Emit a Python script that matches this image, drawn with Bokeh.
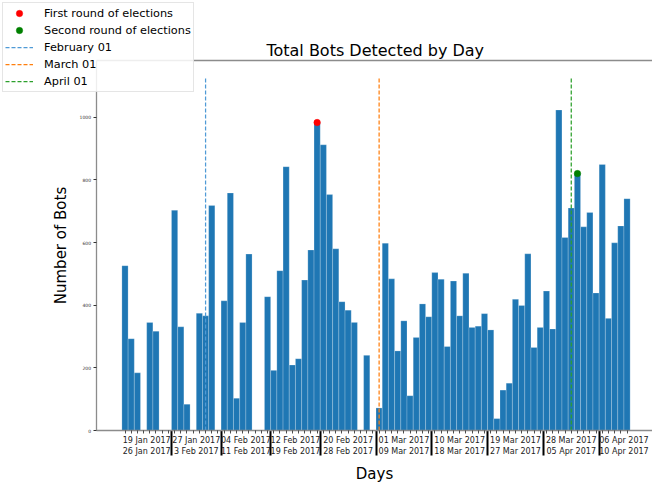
import numpy as np
import pandas as pd
from bokeh.plotting import figure
from bokeh.models import (Range1d, LinearAxis, FixedTicker, Legend, LegendItem,
                          CustomJSTickFormatter, ColumnDataSource, Label)
from bokeh.embed import file_html
from bokeh.resources import INLINE

# ---------------- data ----------------
start_date = "2017-01-19"
bot_counts = [
    # Jan 19 - Jan 31
    526, 293, 184, 0, 345, 317, 0, 0, 703, 331, 84, 0, 374,
    # Feb 01 - Feb 28
    366, 718, 0, 414, 758, 103, 345, 563, 0, 0, 427, 192, 510, 842,
    209, 229, 480, 576, 983, 912, 753, 580, 411, 384, 345, 0, 240, 0,
    # Mar 01 - Mar 31
    72, 598, 484, 254, 350, 111, 297, 404, 363, 504, 483, 268, 477, 366,
    502, 329, 333, 373, 321, 38, 129, 151, 419, 399, 564, 265, 329, 445,
    324, 1023, 616,
    # Apr 01 - Apr 10
    710, 820, 650, 696, 439, 849, 358, 599, 653, 740,
]

election_dates = ["2017-02-19", "2017-04-02"]
election_labels = ["First round of elections", "Second round of elections"]
election_colors = ["red", "green"]

month_marks = ["2017-02-01", "2017-03-01", "2017-04-01"]
month_labels = ["February 01", "March 01", "April 01"]
month_colors = ["#4f9ad6", "#ff7f0e", "#2ca02c"]
month_line_top = 1130

group_start_labels = ["19 Jan 2017", "27 Jan 2017", "04 Feb 2017", "12 Feb 2017",
                      "20 Feb 2017", "01 Mar 2017", "10 Mar 2017", "19 Mar 2017",
                      "28 Mar 2017", "06 Apr 2017"]
group_end_labels = ["26 Jan 2017", "3 Feb 2017", "11 Feb 2017", "19 Feb 2017",
                    "28 Feb 2017", "09 Mar 2017", "18 Mar 2017", "27 Mar 2017",
                    "05 Apr 2017", "10 Apr 2017"]

y_ticks = [0, 200, 400, 600, 800, 1000]
y_top = 1181

# ---------------- layout helpers ----------------
W, H = 652, 484
PX_PER_DAY = 6.198
PX_PER_UNIT = 0.3133
X0_PX = 124.5      # pixel of the first day's centre
Y0_PX = 430.0      # pixel of value 0
AX_LEFT_PX = 95.5  # pixel of left spine

x_lo = (0 - X0_PX) / PX_PER_DAY
x_hi = (W - X0_PX) / PX_PER_DAY
y_lo = (Y0_PX - H) / PX_PER_UNIT
y_hi = Y0_PX / PX_PER_UNIT


def px_to_x(px):
    return (px - X0_PX) / PX_PER_DAY


def px_to_y(py):
    return (Y0_PX - py) / PX_PER_UNIT


# ---------------- derived ----------------
t0 = pd.Timestamp(start_date)


def day_index(d):
    return (pd.Timestamp(d) - t0).days


days = np.arange(len(bot_counts))
counts = np.array(bot_counts)
nz = counts > 0

g_start = [day_index(pd.to_datetime(s, format="%d %b %Y")) for s in group_start_labels]
g_end = [day_index(pd.to_datetime(s, format="%d %b %Y")) for s in group_end_labels]
separators = [s - 0.5 for s in g_start[1:]]
centers = [((s - 0.5) + max(e + 0.5, s - 0.5 + 8)) / 2 for s, e in zip(g_start, g_end)]

FONT = "DejaVu Sans"

p = figure(width=W, height=H, output_backend="svg", toolbar_location=None,
           x_range=Range1d(x_lo, x_hi), y_range=Range1d(y_lo, y_hi),
           x_axis_location=None, y_axis_location=None)
p.min_border = 0
p.min_border_left = 0
p.min_border_right = 0
p.min_border_top = 0
p.min_border_bottom = 0
p.outline_line_color = None
p.grid.grid_line_color = None
p.background_fill_color = "white"
p.border_fill_color = "white"

x_left = px_to_x(AX_LEFT_PX)
x_right = x_hi

# bars
src = ColumnDataSource(dict(x=days[nz], top=counts[nz]))
p.vbar(x="x", top="top", width=1.0, source=src, fill_color="#1f77b4",
       line_color="white", line_alpha=0.35, line_width=0.6)

# month lines
line_renderers = []
for d, c in zip(month_marks, month_colors):
    i = day_index(d)
    r = p.segment(x0=[i], y0=[0], x1=[i], y1=[month_line_top], line_color=c,
                  line_width=1.25, line_dash="4 2")
    line_renderers.append(r)

# election dots
dot_renderers = []
for d, c in zip(election_dates, election_colors):
    i = day_index(d)
    r = p.scatter(x=[i], y=[bot_counts[i]], size=6.5, fill_color=c, line_color=c,
                  line_width=0.5)
    dot_renderers.append(r)

# y axis (left spine)
yax = LinearAxis(
    fixed_location=x_left, bounds=(0, y_top),
    ticker=FixedTicker(ticks=y_ticks),
    major_label_text_font=FONT, major_label_text_font_size="4.5px",
    major_label_text_color="#333333", major_label_standoff=2,
    major_tick_out=3, major_tick_in=0, major_tick_line_color="#333333",
    minor_tick_line_color=None,
    axis_line_color="#8c8c8c", axis_line_width=1.3,
    axis_label="Number of Bots", axis_label_text_font=FONT,
    axis_label_text_font_size="15px", axis_label_text_font_style="normal",
    axis_label_text_color="black", axis_label_standoff=7,
)
p.add_layout(yax, "left")

fmt_code = """
for (let k = 0; k < centers.length; k++) {
  if (Math.abs(centers[k] - tick) < 1e-6) return labels[k];
}
return "";
"""

row2_px = 446.0
ax1 = LinearAxis(
    fixed_location=0, bounds=(x_left, x_right),
    ticker=FixedTicker(ticks=centers, minor_ticks=list(days)),
    formatter=CustomJSTickFormatter(args=dict(centers=centers, labels=group_start_labels), code=fmt_code),
    major_tick_line_color=None, major_tick_out=3, major_tick_in=0,
    minor_tick_line_color="#222222", minor_tick_out=3, minor_tick_in=0, minor_tick_line_width=0.8,
    axis_line_color="#8c8c8c", axis_line_width=1.3,
    major_label_text_font=FONT, major_label_text_font_size="8px",
    major_label_text_color="#222222", major_label_standoff=2,
)
ax2 = LinearAxis(
    fixed_location=px_to_y(row2_px), bounds=(x_left, x_right),
    ticker=FixedTicker(ticks=centers),
    formatter=CustomJSTickFormatter(args=dict(centers=centers, labels=group_end_labels), code=fmt_code),
    major_tick_line_color=None, major_tick_out=0, major_tick_in=0,
    minor_tick_line_color=None,
    axis_line_color=None,
    major_label_text_font=FONT, major_label_text_font_size="8px",
    major_label_text_color="#222222", major_label_standoff=0,
    axis_label="Days", axis_label_text_font=FONT, axis_label_text_font_size="15px",
    axis_label_text_font_style="normal", axis_label_text_color="black",
    axis_label_standoff=6,
)
# group separators (long thick ticks spanning both label rows)
ax3 = LinearAxis(
    fixed_location=0, bounds=(x_left, x_right),
    ticker=FixedTicker(ticks=separators),
    formatter=CustomJSTickFormatter(code="return '';"),
    major_tick_line_color="black", major_tick_out=25, major_tick_in=0,
    major_tick_line_width=2, minor_tick_line_color=None,
    axis_line_color=None, major_label_text_font_size="0px",
)
p.add_layout(ax3, "below")
p.add_layout(ax1, "below")
p.add_layout(ax2, "below")

# top spine
top_ax = LinearAxis(fixed_location=y_top, bounds=(x_left, x_right),
                    ticker=FixedTicker(ticks=[]), major_tick_line_color=None,
                    minor_tick_line_color=None, major_label_text_font_size="0px",
                    axis_line_color="#8c8c8c", axis_line_width=1.3, major_tick_out=0)
p.add_layout(top_ax, "above")

# title
title = Label(x=(AX_LEFT_PX + 654) / 2, y=H - 50, x_units="screen", y_units="screen",
              text="Total Bots Detected by Day", text_font=FONT, text_font_size="16px",
              text_color="black", text_align="center", text_baseline="alphabetic")
p.add_layout(title)

legend = Legend(
    items=[LegendItem(label=l, renderers=[r]) for l, r in zip(election_labels, dot_renderers)]
    + [LegendItem(label=l, renderers=[r]) for l, r in zip(month_labels, line_renderers)],
    location="top_left", margin=2,
    label_text_font=FONT, label_text_font_size="11.3px", label_text_color="black",
    glyph_width=28, glyph_height=16, label_height=16, spacing=1, padding=2,
    label_standoff=11, border_line_color="#cccccc", border_line_width=1,
    background_fill_color="white", background_fill_alpha=0.85,
)
p.add_layout(legend, "center")

open("out.html", "w").write(file_html(p, INLINE))
